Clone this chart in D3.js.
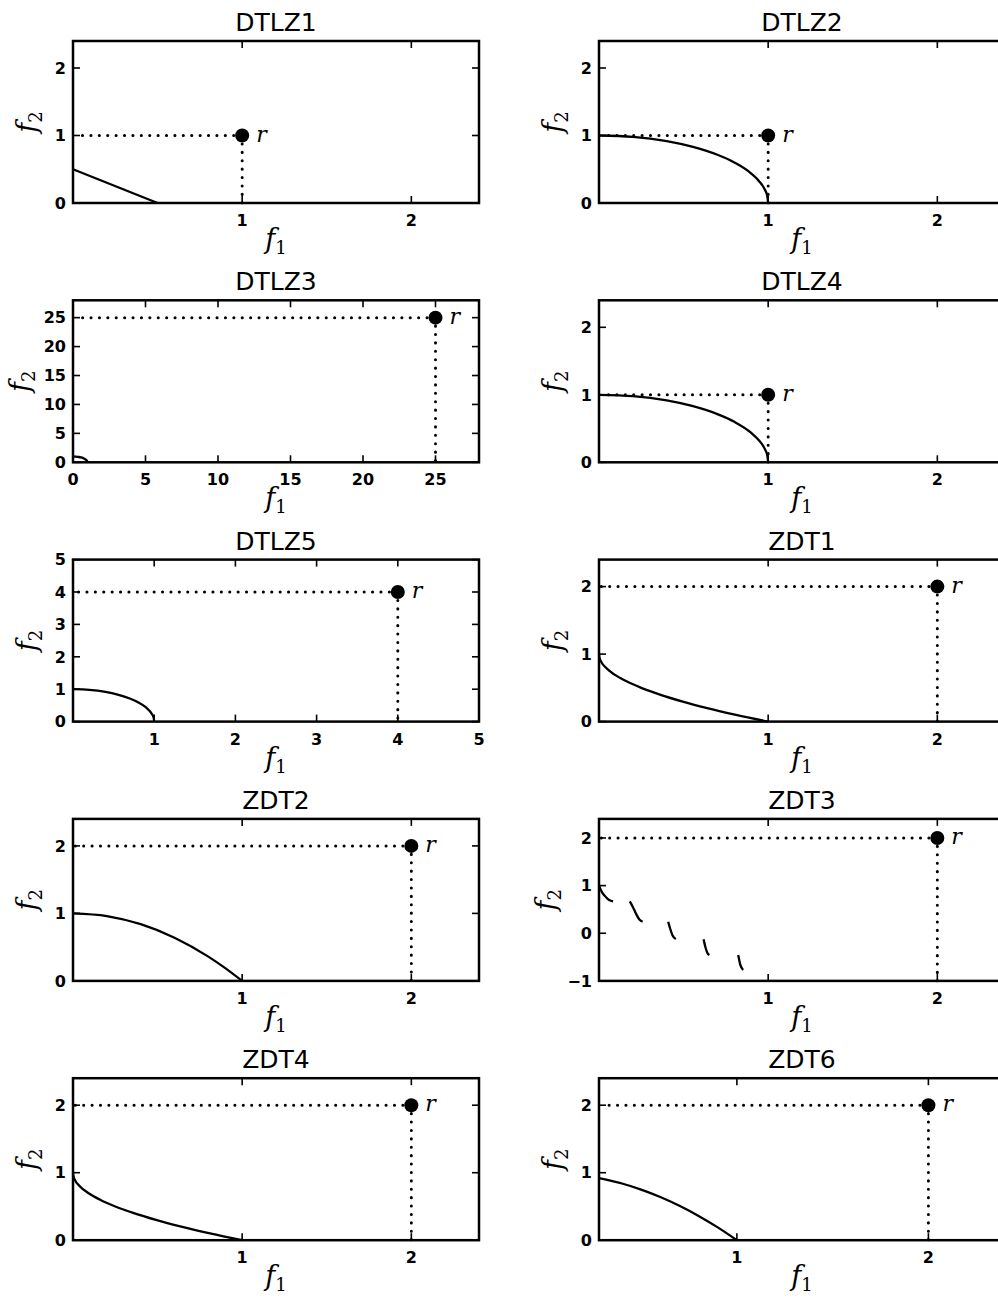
<!DOCTYPE html>
<html>
<head>
<meta charset="utf-8">
<script src="https://cdn.jsdelivr.net/npm/d3@7"></script>
<style>
  body { margin: 0; background: #fff; }
  svg { display: block; }
  .tick_label { font-family: "DejaVu Sans", sans-serif; font-weight: bold; font-size: 16px; fill: #000; }
  .text_title { font-family: "DejaVu Sans", sans-serif; font-size: 25px; fill: #000; }
  .math { font-family: "DejaVu Serif", "Liberation Serif", serif; font-style: italic; fill: #000; }
  .sub { font-family: "DejaVu Serif", "Liberation Serif", serif; font-style: normal; }
</style>
</head>
<body>
<div id="chart"></div>
<script>
// panel data
var titles = ["DTLZ1", "DTLZ2", "DTLZ3", "DTLZ4", "DTLZ5", "ZDT1", "ZDT2", "ZDT3", "ZDT4", "ZDT6"];
var xMin = [0, 0, 0, 0, 0, 0, 0, 0, 0, 0.28];
var xMax = [2.4, 2.4, 28, 2.4, 5, 2.4, 2.4, 2.4, 2.4, 2.4];
var yMin = [0, 0, 0, 0, 0, 0, 0, -1, 0, 0];
var yMax = [2.4, 2.4, 28, 2.4, 5, 2.4, 2.4, 2.4, 2.4, 2.4];
var xTicks = [[1, 2], [1, 2], [0, 5, 10, 15, 20, 25], [1, 2], [1, 2, 3, 4, 5], [1, 2], [1, 2], [1, 2], [1, 2], [1, 2]];
var yTicks = [[0, 1, 2], [0, 1, 2], [0, 5, 10, 15, 20, 25], [0, 1, 2], [0, 1, 2, 3, 4, 5], [0, 1, 2], [0, 1, 2], [-1, 0, 1, 2], [0, 1, 2], [0, 1, 2]];
var refX = [1, 1, 25, 1, 4, 2, 2, 2, 2, 2];
var refY = [1, 1, 25, 1, 4, 2, 2, 2, 2, 2];

// pareto fronts
var frontLinear = [[0, 0.5], [0.5, 0]];
var frontCircle = [[0, 1], [0.2, 0.98], [0.4, 0.917], [0.55, 0.835], [0.7, 0.714], [0.8, 0.6],
                   [0.9, 0.436], [0.95, 0.312], [0.98, 0.199], [0.995, 0.1], [1, 0]];
var frontConvex = [[0, 1], [0.0025, 0.95], [0.01, 0.9], [0.04, 0.8], [0.09, 0.7], [0.16, 0.6], [0.25, 0.5],
                   [0.36, 0.4], [0.49, 0.3], [0.64, 0.2], [0.81, 0.1], [1, 0]];
var frontConcave = [[0, 1], [0.2, 0.96], [0.4, 0.84], [0.6, 0.64], [0.8, 0.36], [0.9, 0.19], [1, 0]];
var frontDisconnected = [
  [[0, 1], [0.02, 0.847], [0.04, 0.762], [0.06, 0.698], [0.083, 0.67]],
  [[0.182, 0.67], [0.2, 0.553], [0.22, 0.402], [0.24, 0.282], [0.258, 0.242]],
  [[0.409, 0.242], [0.42, 0.105], [0.435, -0.047], [0.454, -0.124]],
  [[0.618, -0.125], [0.63, -0.303], [0.64, -0.409], [0.6525, -0.459]],
  [[0.823, -0.458], [0.835, -0.658], [0.852, -0.773]]
];
var frontShifted = [[0.28, 0.92], [0.4, 0.84], [0.5, 0.75], [0.6, 0.64], [0.7, 0.51], [0.8, 0.36], [0.9, 0.19], [1, 0]];
var fronts = [[frontLinear], [frontCircle], [frontCircle], [frontCircle], [frontCircle],
              [frontConvex], [frontConcave], frontDisconnected, [frontConvex], [frontShifted]];

var svg = d3.select("#chart").append("svg")
    .attr("width", 998)
    .attr("height", 1300);

var colLeft = [73, 599];
var rowTop = 41, rowStep = 259.3;
var plotW = 406, plotH = 162;
var tickLen = 7;

titles.forEach(function(title, i) {
  var col = i % 2, row = Math.floor(i / 2);
  var left = colLeft[col], top = rowTop + row * rowStep;

  var x = d3.scaleLinear().domain([xMin[i], xMax[i]]).range([0, plotW]);
  var y = d3.scaleLinear().domain([yMin[i], yMax[i]]).range([plotH, 0]);
  var fmt = d3.format("d");
  var maxLen = d3.max(yTicks[i], function(d) { return fmt(d).length; });

  var g = svg.append("g").attr("class", "panel").attr("transform", "translate(" + left + "," + top + ")");

  // ticks (inside) on all four sides
  var tk = g.append("g").attr("stroke", "#000").attr("stroke-width", 1.6);
  xTicks[i].forEach(function(t) {
    tk.append("line").attr("x1", x(t)).attr("x2", x(t)).attr("y1", plotH).attr("y2", plotH - tickLen);
    tk.append("line").attr("x1", x(t)).attr("x2", x(t)).attr("y1", 0).attr("y2", tickLen);
  });
  yTicks[i].forEach(function(t) {
    tk.append("line").attr("x1", 0).attr("x2", tickLen).attr("y1", y(t)).attr("y2", y(t));
    tk.append("line").attr("x1", plotW).attr("x2", plotW - tickLen).attr("y1", y(t)).attr("y2", y(t));
  });

  g.selectAll(".xlab").data(xTicks[i]).enter().append("text")
    .attr("class", "tick_label")
    .attr("x", function(d) { return x(d); })
    .attr("y", plotH + 23)
    .attr("text-anchor", "middle")
    .text(fmt);

  g.selectAll(".ylab").data(yTicks[i]).enter().append("text")
    .attr("class", "tick_label")
    .attr("x", -7)
    .attr("y", function(d) { return y(d); })
    .attr("dy", "0.36em")
    .attr("text-anchor", "end")
    .text(fmt);

  // reference point guides
  var rx = x(refX[i]), ry = y(refY[i]);
  var dots = g.append("g").attr("stroke", "#000").attr("stroke-width", 3)
    .attr("stroke-linecap", "round").attr("stroke-dasharray", "0.1,8.3");
  dots.append("line").attr("x1", rx).attr("x2", 2).attr("y1", ry).attr("y2", ry);
  dots.append("line").attr("x1", rx).attr("x2", rx).attr("y1", ry).attr("y2", plotH);

  // front
  var line = d3.line()
    .x(function(d) { return x(d[0]); })
    .y(function(d) { return y(d[1]); })
    .curve(d3.curveMonotoneX);
  g.selectAll(".front").data(fronts[i]).enter().append("path")
    .attr("class", "front")
    .attr("d", line)
    .attr("fill", "none")
    .attr("stroke", "#000")
    .attr("stroke-width", 2.3);

  g.append("circle").attr("cx", rx).attr("cy", ry).attr("r", 7).attr("fill", "#000");
  g.append("text").attr("class", "math")
    .attr("x", rx + 14).attr("y", ry + 6)
    .style("font-size", "22px")
    .text("r");

  // frame
  g.append("rect").attr("class", "page_frame")
    .attr("width", plotW).attr("height", plotH)
    .attr("fill", "none").attr("stroke", "#000").attr("stroke-width", 2.5);

  g.append("text").attr("class", "text_title")
    .attr("x", plotW / 2).attr("y", -10)
    .attr("text-anchor", "middle")
    .text(title);

  var xl = g.append("text").attr("class", "math")
    .attr("x", plotW / 2).attr("y", plotH + 45)
    .attr("text-anchor", "middle")
    .style("font-size", "27px");
  xl.append("tspan").text("f");
  xl.append("tspan").attr("class", "sub").attr("dy", 6).style("font-size", "18px").text("1");

  var yl = g.append("text").attr("class", "math")
    .attr("transform", "translate(" + (-37 - 7 * (maxLen - 1)) + "," + (plotH / 2) + ") rotate(-90)")
    .attr("text-anchor", "middle")
    .style("font-size", "27px");
  yl.append("tspan").text("f");
  yl.append("tspan").attr("class", "sub").attr("dy", 6).style("font-size", "18px").text("2");
});
</script>
</body>
</html>
